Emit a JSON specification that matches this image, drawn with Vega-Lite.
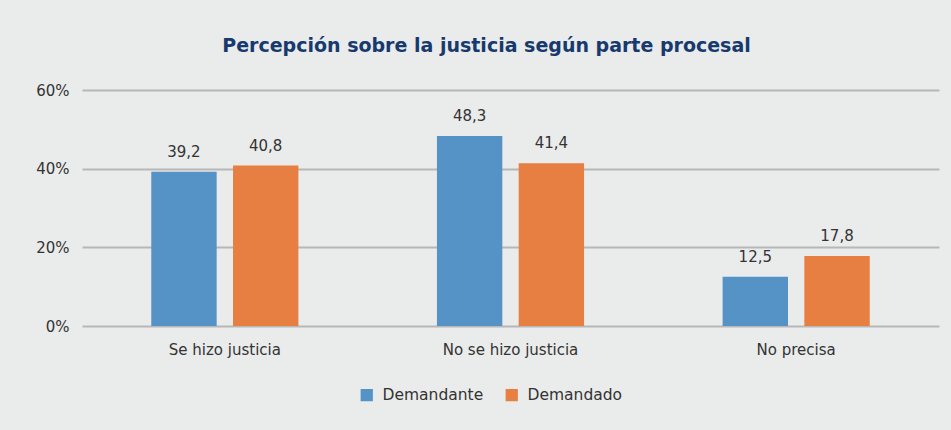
{
  "$schema": "https://vega.github.io/schema/vega-lite/v6.json",
  "autosize": {"type": "none"},
  "width": 857,
  "height": 236,
  "padding": {"left": 82, "top": 90, "right": 12, "bottom": 104},
  "background": "#eaebeb",
  "config": {
    "font": "DejaVu Sans",
    "view": {"stroke": null},
    "locale": {"number": {"decimal": ",", "thousands": ".", "grouping": [3], "currency": ["", " €"]}}
  },
  "title": {
    "text": "Percepción sobre la justicia según parte procesal",
    "font": "DejaVu Sans",
    "fontSize": 19,
    "fontWeight": "bold",
    "color": "#173a6e",
    "anchor": "middle",
    "frame": "group",
    "dx": -24,
    "offset": 27
  },
  "data": {
    "values": [
      {"categoria": "Se hizo justicia", "parte": "Demandante", "valor": 39.2},
      {"categoria": "Se hizo justicia", "parte": "Demandado", "valor": 40.8},
      {"categoria": "No se hizo justicia", "parte": "Demandante", "valor": 48.3},
      {"categoria": "No se hizo justicia", "parte": "Demandado", "valor": 41.4},
      {"categoria": "No precisa", "parte": "Demandante", "valor": 12.5},
      {"categoria": "No precisa", "parte": "Demandado", "valor": 17.8}
    ]
  },
  "encoding": {
    "x": {
      "field": "categoria",
      "type": "nominal",
      "sort": ["Se hizo justicia", "No se hizo justicia", "No precisa"],
      "scale": {"paddingInner": 0.485, "paddingOuter": 0.2425},
      "axis": {
        "title": null,
        "labelAngle": 0,
        "labelFontSize": 15,
        "labelColor": "#333333",
        "labelPadding": 16,
        "ticks": false,
        "domain": false
      }
    },
    "xOffset": {
      "field": "parte",
      "type": "nominal",
      "sort": ["Demandante", "Demandado"],
      "scale": {"paddingInner": 0.2, "paddingOuter": 0}
    },
    "y": {
      "field": "valor",
      "type": "quantitative",
      "scale": {"domain": [0, 60]},
      "axis": {
        "title": null,
        "values": [0, 20, 40, 60],
        "labelExpr": "datum.value + '%'",
        "labelFontSize": 15,
        "labelColor": "#333333",
        "labelPadding": 13,
        "ticks": false,
        "domain": false,
        "gridColor": "#b7b7b7",
        "gridWidth": 1.8
      }
    }
  },
  "layer": [
    {
      "mark": {"type": "bar"},
      "encoding": {
        "color": {
          "field": "parte",
          "type": "nominal",
          "sort": ["Demandante", "Demandado"],
          "scale": {"domain": ["Demandante", "Demandado"], "range": ["#5592c6", "#e67f41"]},
          "legend": {
            "title": null,
            "orient": "none",
            "direction": "horizontal",
            "legendX": 277,
            "legendY": 297,
            "symbolType": "square",
            "symbolSize": 150,
            "symbolStrokeWidth": 0,
            "labelFontSize": 15.5,
            "labelColor": "#333333",
            "columnPadding": 20,
            "labelOffset": 8
          }
        }
      }
    },
    {
      "mark": {"type": "text", "baseline": "bottom", "dy": -12, "fontSize": 15, "color": "#333333"},
      "encoding": {
        "text": {"field": "valor", "type": "quantitative", "format": ".1f"}
      }
    }
  ]
}
